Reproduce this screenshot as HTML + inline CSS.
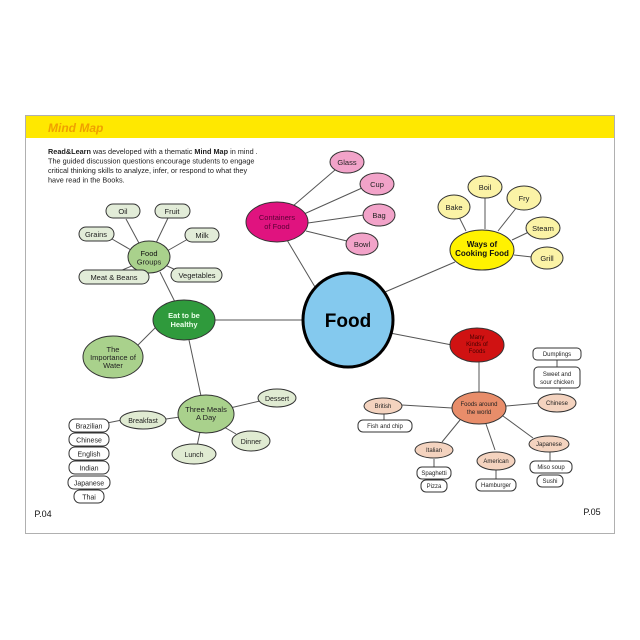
<!DOCTYPE html>
<html><head><meta charset="utf-8"><style>
html,body{margin:0;padding:0;background:#fff}
svg{display:block}
text{font-family:"Liberation Sans",sans-serif;text-anchor:middle}
</style></head><body>
<svg width="640" height="640" viewBox="0 0 640 640" xmlns="http://www.w3.org/2000/svg">
<rect x="25.5" y="115.5" width="589" height="418" fill="#fff" stroke="#b0b0b0" stroke-width="1"/>
<rect x="26" y="116" width="588" height="22" fill="#ffe800"/>
<text x="48" y="132" style="text-anchor:start;font-style:italic;font-weight:bold;font-size:12px" fill="#f0a000">Mind Map</text>
<g style="font-size:7.3px" fill="#222">
<text x="48" y="154" style="text-anchor:start"><tspan font-weight="bold">Read&amp;Learn</tspan> was developed with a thematic <tspan font-weight="bold">Mind Map</tspan> in mind .</text>
<text x="48" y="163.5" style="text-anchor:start">The guided discussion questions encourage students to engage</text>
<text x="48" y="173" style="text-anchor:start">critical thinking skills to analyze, infer, or respond to what they</text>
<text x="48" y="182.5" style="text-anchor:start">have read in the Books.</text>
</g>
<g stroke="#555" stroke-width="1" fill="none">
<!-- food spokes -->
<line x1="302" y1="320" x2="215" y2="320"/>
<line x1="315" y1="287" x2="287" y2="240"/>
<line x1="385" y1="292" x2="455" y2="262"/>
<line x1="390" y1="333" x2="452" y2="345"/>
<!-- containers -->
<line x1="293" y1="206" x2="335" y2="170"/>
<line x1="304" y1="214" x2="362" y2="188"/>
<line x1="308" y1="223" x2="364" y2="215"/>
<line x1="306" y1="231" x2="347" y2="241"/>
<!-- cooking -->
<line x1="466" y1="231" x2="458" y2="215"/>
<line x1="485" y1="229" x2="485" y2="197"/>
<line x1="498" y1="231" x2="517" y2="207"/>
<line x1="512" y1="240" x2="531" y2="231"/>
<line x1="514" y1="255" x2="532" y2="257"/>
<!-- many kinds -->
<line x1="479" y1="362" x2="479" y2="392"/>
<line x1="452" y1="408" x2="402" y2="405"/>
<line x1="506" y1="406" x2="540" y2="403"/>
<line x1="560" y1="391" x2="560" y2="387"/>
<line x1="557" y1="367" x2="557" y2="359"/>
<line x1="384" y1="413" x2="384" y2="420"/>
<line x1="460" y1="420" x2="442" y2="442"/>
<line x1="486" y1="424" x2="495" y2="450"/>
<line x1="503" y1="416" x2="533" y2="438"/>
<line x1="434" y1="459" x2="434" y2="467"/>
<line x1="496" y1="470" x2="496" y2="479"/>
<line x1="550" y1="452" x2="550" y2="461"/>
<!-- eat healthy -->
<line x1="160" y1="272" x2="175" y2="302"/>
<line x1="160" y1="323" x2="138" y2="345"/>
<line x1="189" y1="340" x2="201" y2="396"/>
<line x1="140" y1="245" x2="126" y2="219"/>
<line x1="156" y1="243" x2="168" y2="218"/>
<line x1="131" y1="250" x2="112" y2="239"/>
<line x1="167" y1="251" x2="188" y2="239"/>
<line x1="134" y1="265" x2="120" y2="271"/>
<line x1="165" y1="265" x2="178" y2="271"/>
<line x1="180" y1="417" x2="166" y2="419"/>
<line x1="230" y1="408" x2="260" y2="401"/>
<line x1="224" y1="427" x2="236" y2="434"/>
<line x1="200" y1="432" x2="197" y2="446"/>
<line x1="122" y1="420" x2="107" y2="423"/>
</g>
<!-- Food -->
<ellipse cx="348" cy="320" rx="45" ry="47" fill="#84c9ee" stroke="#000" stroke-width="3"/>
<text x="348" y="327" style="font-weight:bold;font-size:19px" fill="#000">Food</text>
<!-- containers -->
<g stroke="#333" stroke-width="1">
<ellipse cx="277" cy="222" rx="31" ry="20" fill="#e0137f"/>
<ellipse cx="347" cy="162" rx="17" ry="11" fill="#f2a3c9"/>
<ellipse cx="377" cy="184" rx="17" ry="11" fill="#f2a3c9"/>
<ellipse cx="379" cy="215" rx="16" ry="11" fill="#f2a3c9"/>
<ellipse cx="362" cy="244" rx="16" ry="11" fill="#f2a3c9"/>
<ellipse cx="482" cy="250" rx="32" ry="20" fill="#fff200"/>
<ellipse cx="454" cy="207" rx="16" ry="12" fill="#fbf3a6"/>
<ellipse cx="485" cy="187" rx="17" ry="11" fill="#fbf3a6"/>
<ellipse cx="524" cy="198" rx="17" ry="12" fill="#fbf3a6"/>
<ellipse cx="543" cy="228" rx="17" ry="11" fill="#fbf3a6"/>
<ellipse cx="547" cy="258" rx="16" ry="11" fill="#fbf3a6"/>
<ellipse cx="477" cy="345" rx="27" ry="17" fill="#d01212"/>
<ellipse cx="479" cy="408" rx="27" ry="16" fill="#e88d6a"/>
<ellipse cx="557" cy="403" rx="19" ry="9" fill="#f4d3bf"/>
<ellipse cx="383" cy="406" rx="19" ry="8" fill="#f4d3bf"/>
<ellipse cx="549" cy="444" rx="20" ry="8" fill="#f4d3bf"/>
<ellipse cx="434" cy="450" rx="19" ry="8" fill="#f4d3bf"/>
<ellipse cx="496" cy="461" rx="19" ry="9" fill="#f4d3bf"/>
<ellipse cx="184" cy="320" rx="31" ry="20" fill="#2f9a3c"/>
<ellipse cx="149" cy="257" rx="21" ry="16" fill="#a9d18c"/>
<ellipse cx="113" cy="357" rx="30" ry="21" fill="#a9d18c"/>
<ellipse cx="206" cy="414" rx="28" ry="19" fill="#a9d18c"/>
<ellipse cx="277" cy="398" rx="19" ry="9" fill="#e0ebd2"/>
<ellipse cx="143" cy="420" rx="23" ry="9" fill="#e0ebd2"/>
<ellipse cx="251" cy="441" rx="19" ry="10" fill="#e0ebd2"/>
<ellipse cx="194" cy="454" rx="22" ry="10" fill="#e0ebd2"/>
</g>
<g stroke="#333" stroke-width="1" fill="#e2ecd8">
<rect x="106" y="204" width="34" height="14" rx="7"/>
<rect x="155" y="204" width="35" height="14" rx="7"/>
<rect x="79" y="227" width="35" height="14" rx="7"/>
<rect x="185" y="228" width="34" height="14" rx="7"/>
<rect x="79" y="270" width="70" height="14" rx="7"/>
<rect x="171" y="268" width="51" height="14" rx="7"/>
</g>
<g stroke="#333" stroke-width="1" fill="#fff">
<rect x="69" y="419" width="40" height="13" rx="6"/>
<rect x="69" y="433" width="40" height="13" rx="6"/>
<rect x="69" y="447" width="40" height="13" rx="6"/>
<rect x="69" y="461" width="40" height="13" rx="6"/>
<rect x="68" y="476" width="42" height="13" rx="6"/>
<rect x="74" y="490" width="30" height="13" rx="6"/>
<rect x="533" y="348" width="48" height="12" rx="4"/>
<rect x="534" y="367" width="46" height="21" rx="4"/>
<rect x="358" y="420" width="54" height="12" rx="5"/>
<rect x="417" y="467" width="34" height="12" rx="5"/>
<rect x="421" y="480" width="26" height="12" rx="5"/>
<rect x="476" y="479" width="40" height="12" rx="5"/>
<rect x="530" y="461" width="42" height="12" rx="5"/>
<rect x="537" y="475" width="26" height="12" rx="5"/>
</g>
<g style="font-size:7.5px" fill="#222">
<text x="123" y="214">Oil</text><text x="172" y="214">Fruit</text>
<text x="96" y="237">Grains</text><text x="202" y="238">Milk</text>
<text x="114" y="280">Meat &amp; Beans</text><text x="197" y="278">Vegetables</text>
<text x="149" y="256" fill="#111">Food</text><text x="149" y="264.5">Groups</text>
<text x="113" y="352">The</text><text x="113" y="360">Importance of</text><text x="113" y="368">Water</text>
<text x="206" y="412">Three Meals</text><text x="206" y="420">A Day</text>
<text x="277" y="401" style="font-size:7px">Dessert</text>
<text x="143" y="423" style="font-size:7px">Breakfast</text>
<text x="251" y="444" style="font-size:7px">Dinner</text>
<text x="194" y="457" style="font-size:7px">Lunch</text>
<text x="89" y="428.5" style="font-size:7px">Brazilian</text>
<text x="89" y="442.5" style="font-size:7px">Chinese</text>
<text x="89" y="456.5" style="font-size:7px">English</text>
<text x="89" y="470.5" style="font-size:7px">Indian</text>
<text x="89" y="485.5" style="font-size:7px">Japanese</text>
<text x="89" y="499.5" style="font-size:7px">Thai</text>
<text x="347" y="165">Glass</text><text x="377" y="187">Cup</text>
<text x="379" y="218">Bag</text><text x="362" y="247">Bowl</text>
<text x="454" y="210">Bake</text><text x="485" y="190">Boil</text>
<text x="524" y="201">Fry</text><text x="543" y="231">Steam</text><text x="547" y="261">Grill</text>
</g>
<g style="font-size:7.5px;font-weight:bold">
<text x="184" y="318" fill="#eaffea">Eat to be</text><text x="184" y="327" fill="#eaffea">Healthy</text>
<text x="277" y="220" fill="#5a0035" style="font-weight:normal">Containers</text><text x="277" y="229" fill="#5a0035" style="font-weight:normal">of Food</text>
<text x="482" y="247" fill="#111" style="font-size:8px">Ways of</text><text x="482" y="256" fill="#111" style="font-size:8px">Cooking Food</text>
</g>
<g style="font-size:6px" fill="#222">
<text x="477" y="339" fill="#400">Many</text><text x="477" y="346" fill="#400">Kinds of</text><text x="477" y="353" fill="#400">Foods</text>
<text x="479" y="406">Foods around</text><text x="479" y="414">the world</text>
<text x="557" y="405">Chinese</text><text x="383" y="408">British</text>
<text x="549" y="446">Japanese</text><text x="434" y="452">Italian</text><text x="496" y="463">American</text>
<text x="557" y="356">Dumplings</text>
<text x="557" y="376">Sweet and</text><text x="557" y="384">sour chicken</text>
<text x="385" y="428">Fish and chip</text>
<text x="434" y="475">Spaghetti</text><text x="434" y="488">Pizza</text>
<text x="496" y="487">Hamburger</text>
<text x="551" y="469">Miso soup</text><text x="550" y="483">Sushi</text>
</g>
<text x="43" y="517" style="font-size:9px" fill="#111">P.04</text>
<text x="592" y="515" style="font-size:9px" fill="#111">P.05</text>
</svg>
</body></html>
